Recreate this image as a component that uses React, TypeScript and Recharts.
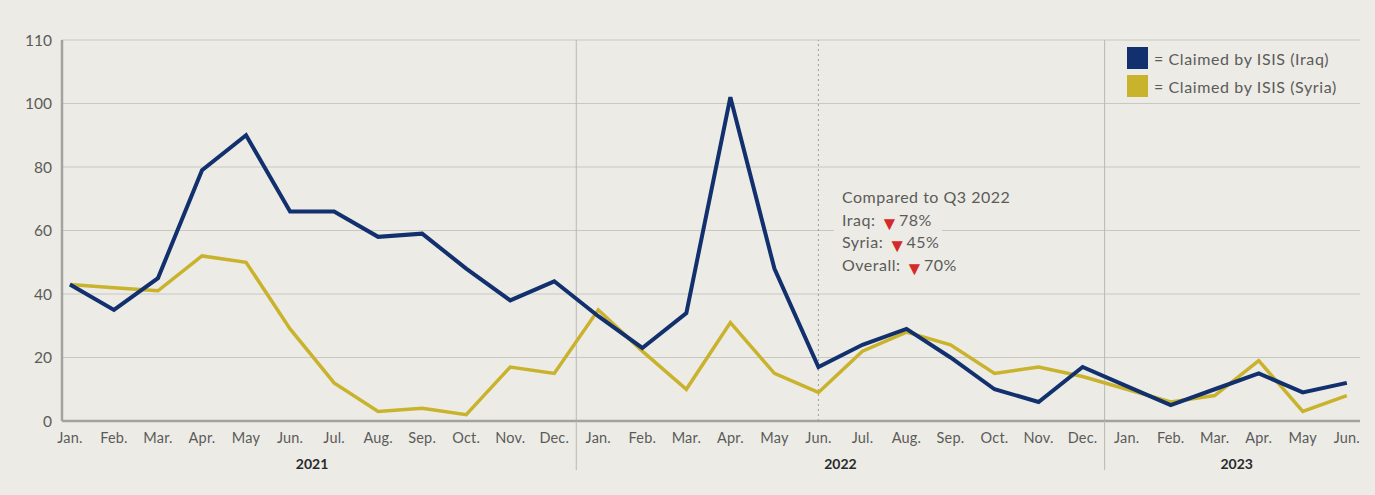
import React from "react";
import {
  LineChart,
  Line,
  XAxis,
  YAxis,
  CartesianGrid,
  ReferenceLine,
} from "recharts";

const months = [
  "Jan.", "Feb.", "Mar.", "Apr.", "May", "Jun.", "Jul.", "Aug.", "Sep.", "Oct.", "Nov.", "Dec.",
  "Jan.", "Feb.", "Mar.", "Apr.", "May", "Jun.", "Jul.", "Aug.", "Sep.", "Oct.", "Nov.", "Dec.",
  "Jan.", "Feb.", "Mar.", "Apr.", "May", "Jun.",
];

const iraq = [
  43, 35, 45, 79, 90, 66, 66, 58, 59, 48, 38, 44,
  33, 23, 34, 102, 48, 17, 24, 29, 20, 10, 6, 17,
  11, 5, 10, 15, 9, 12,
];

const syria = [
  43, 42, 41, 52, 50, 29, 12, 3, 4, 2, 17, 15,
  35, 22, 10, 31, 15, 9, 22, 28, 24, 15, 17, 14,
  10, 6, 8, 19, 3, 8,
];

const yTicks = [0, 20, 40, 60, 80, 100, 120];
const yTickLabels = ["0", "20", "40", "60", "80", "100", "110"];

const years = ["2021", "2022", "2023"];
const yearCenters = [5.5, 17.5, 26.5];
const yearBoundaries = [11.5, 23.5];
const midYearMark = 17;

const legendItems = [
  { label: "= Claimed by ISIS (Iraq)", color: "#11306d" },
  { label: "= Claimed by ISIS (Syria)", color: "#c9b22c" },
];

const annotationTitle = "Compared to Q3 2022";
const annotationRows = [
  { label: "Iraq:", value: "78%" },
  { label: "Syria:", value: "45%" },
  { label: "Overall:", value: "70%" },
];

const data = months.map((m, i) => ({ i, month: m, iraq: iraq[i], syria: syria[i] }));

const BG = "#ecebe5";
const FONT = "Lato, 'Open Sans', sans-serif";
const TEXT = "#5b5b5b";

const yearTicksAll = [...yearCenters, ...yearBoundaries].sort((a, b) => a - b);

const YearTick = (props: any) => {
  const { x, y, payload } = props;
  const v = payload.value;
  const bi = yearBoundaries.indexOf(v);
  if (bi >= 0) {
    return <line x1={x} x2={x} y1={y - 38} y2={y + 11} stroke="#b9b8b3" strokeWidth={1} />;
  }
  const ci = yearCenters.indexOf(v);
  return (
    <text x={x} y={y} dy="0.71em" textAnchor="middle" fontFamily={FONT} fontSize={14} fontWeight={700} fill="#2a2a2a">
      {years[ci]}
    </text>
  );
};

const rowStyle: React.CSSProperties = {
  display: "block",
  width: "fit-content",
  padding: "0 10px 0 8px",
  background: BG,
};

export default function App() {
  return (
    <div
      style={{
        position: "absolute",
        left: 0,
        top: 0,
        width: 1375,
        height: 495,
        background: BG,
        overflow: "hidden",
      }}
    >
      <LineChart width={1375} height={495} data={data} margin={{ top: 40, right: 15, bottom: 0, left: 0 }}>
        <CartesianGrid xAxisId="m" vertical={false} stroke="#c8c7c2" strokeWidth={1} />
        <XAxis
          xAxisId="m"
          dataKey="i"
          type="number"
          domain={[-0.18, 29.3]}
          allowDataOverflow
          ticks={months.map((_, i) => i)}
          interval={0}
          tickFormatter={(v: number) => months[v] ?? ""}
          tickLine={false}
          tickSize={0}
          tickMargin={12}
          height={30}
          axisLine={{ stroke: "#a3a29e", strokeWidth: 2.5 }}
          tick={{ fontFamily: FONT, fontSize: 14.5, fill: TEXT, letterSpacing: 0.2 }}
        />
        <XAxis
          xAxisId="y"
          dataKey="i"
          type="number"
          domain={[-0.18, 29.3]}
          allowDataOverflow
          ticks={yearTicksAll}
          interval={0}
          axisLine={false}
          tickLine={false}
          tickSize={0}
          tickMargin={8}
          height={44}
          tick={<YearTick />}
        />
        <YAxis
          domain={[0, 120]}
          ticks={yTicks}
          interval={0}
          width={62}
          tickLine={false}
          tickSize={0}
          tickMargin={10}
          tickFormatter={(v: number) => yTickLabels[yTicks.indexOf(v)] ?? String(v)}
          axisLine={{ stroke: "#a3a29e", strokeWidth: 2.5 }}
          tick={{ fontFamily: FONT, fontSize: 15.5, fill: TEXT }}
        />
        {yearBoundaries.map((b) => (
          <ReferenceLine key={b} xAxisId="m" x={b} stroke="#b9b8b3" strokeWidth={1} />
        ))}
        <ReferenceLine xAxisId="m" x={midYearMark} stroke="#9e9d99" strokeWidth={1} strokeDasharray="2 3" />
        <Line
          xAxisId="m"
          type="linear"
          dataKey="syria"
          stroke="#c9b22c"
          strokeWidth={3.5}
          dot={false}
          activeDot={false}
          isAnimationActive={false}
        />
        <Line
          xAxisId="m"
          type="linear"
          dataKey="iraq"
          stroke="#11306d"
          strokeWidth={4}
          dot={false}
          activeDot={false}
          isAnimationActive={false}
        />
      </LineChart>

      <div style={{ position: "absolute", left: 1127, top: 44, fontFamily: FONT, fontSize: 16, letterSpacing: 0.6, color: TEXT }}>
        {legendItems.map((it) => (
          <div key={it.label} style={{ display: "flex", alignItems: "center", height: 28 }}>
            <div style={{ width: 21, height: 22, background: it.color, marginRight: 6 }} />
            <span>{it.label}</span>
          </div>
        ))}
      </div>

      <div
        style={{
          position: "absolute",
          left: 834,
          top: 186,
          fontFamily: FONT,
          fontSize: 16,
          letterSpacing: 0.5,
          color: TEXT,
          lineHeight: "22.5px",
        }}
      >
        <div style={rowStyle}>{annotationTitle}</div>
        {annotationRows.map((r) => (
          <div key={r.label} style={rowStyle}>
            {r.label}{" "}
            <span style={{ color: "#d42a2a", fontSize: 19, position: "relative", top: 4, letterSpacing: 0, lineHeight: "10px" }}>▼</span>
            {r.value}
          </div>
        ))}
      </div>
    </div>
  );
}
